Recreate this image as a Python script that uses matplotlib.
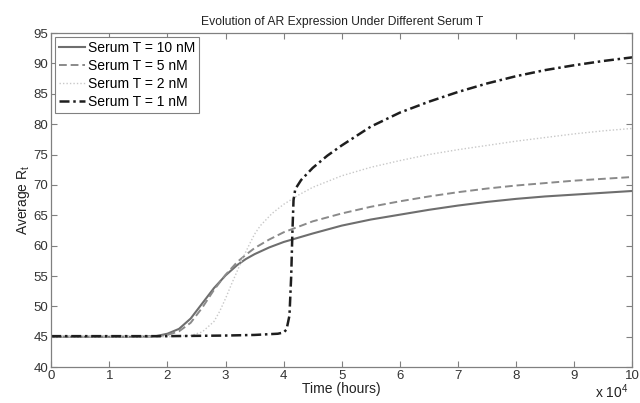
import matplotlib
matplotlib.use("Agg")
from matplotlib import pyplot as plt
import numpy as np

# time in units of 1e4 hours, values are average R_t
t10 = [0, 1, 1.5, 1.8, 2.0, 2.2, 2.4, 2.6, 2.8, 3.0, 3.2, 3.35, 3.5, 3.75, 4.0, 4.5, 5, 5.5, 6, 6.5, 7, 7.5, 8, 8.5, 9, 9.5, 10]
r10 = [45, 45, 45, 45.1, 45.5, 46.3, 48.0, 50.5, 53.0, 55.1, 56.8, 57.8, 58.6, 59.7, 60.6, 62.0, 63.3, 64.3, 65.1, 65.9, 66.6, 67.2, 67.7, 68.1, 68.4, 68.7, 69.0]

t5 = [0, 1, 1.5, 1.8, 2.0, 2.2, 2.4, 2.6, 2.8, 3.0, 3.2, 3.35, 3.5, 3.75, 4.0, 4.5, 5, 5.5, 6, 6.5, 7, 7.5, 8, 8.5, 9, 9.5, 10]
r5 = [45, 45, 45, 45.0, 45.3, 45.9, 47.3, 49.8, 52.7, 55.2, 57.3, 58.5, 59.6, 61.0, 62.2, 64.0, 65.3, 66.4, 67.3, 68.1, 68.8, 69.4, 69.9, 70.3, 70.7, 71.0, 71.3]

t2 = [0, 1, 2, 2.4, 2.6, 2.8, 2.9, 3.0, 3.1, 3.2, 3.3, 3.4, 3.5, 3.6, 3.8, 4.0, 4.25, 4.5, 5, 5.5, 6, 6.5, 7, 7.5, 8, 8.5, 9, 9.5, 10]
r2 = [45, 45, 45, 45.2, 45.8, 47.5, 49.2, 51.3, 53.6, 55.8, 58.0, 60.0, 61.9, 63.3, 65.3, 66.8, 68.3, 69.6, 71.5, 72.9, 74.0, 75.0, 75.8, 76.5, 77.2, 77.8, 78.4, 78.9, 79.3]

t1 = [0, 1, 2, 3, 3.5, 3.9, 4.0, 4.05, 4.1, 4.13, 4.15, 4.17, 4.2, 4.3, 4.5, 4.75, 5, 5.5, 6, 6.5, 7, 7.5, 8, 8.5, 9, 9.5, 10]
r1 = [45.1, 45.1, 45.1, 45.2, 45.3, 45.5, 45.7, 46.2, 48.5, 55, 62, 67.5, 69.3, 70.8, 72.8, 74.8, 76.5, 79.6, 81.9, 83.7, 85.3, 86.7, 87.9, 88.9, 89.7, 90.4, 91.0]

labels = ["Serum T = 10 nM", "Serum T = 5 nM", "Serum T = 2 nM", "Serum T = 1 nM"]

plt.rcParams['font.family'] = ['Liberation Sans', 'DejaVu Sans']
plt.rcParams['font.size'] = 10

fig = plt.figure(figsize=(6.4, 4.03), dpi=100)
ax = fig.add_axes([0.080, 0.089, 0.908, 0.829])

ax.plot(t10, r10, color="#6e6e6e", lw=1.5, ls="-", label=labels[0])
ax.plot(t5, r5, color="#8a8a8a", lw=1.4, ls=(0, (4, 2)), label=labels[1])
ax.plot(t2, r2, color="#c8c8c8", lw=1.0, ls=(0, (1, 1.5)), label=labels[2])
ax.plot(t1, r1, color="#1e1e1e", lw=1.8, ls=(0, (4, 1.5, 1, 1.5)), label=labels[3])

ax.set_xlim(0, 10)
ax.set_ylim(40, 95)
ax.set_xticks(range(0, 11))
ax.set_yticks(range(40, 96, 5))
ax.tick_params(direction="in", top=True, right=True, length=4, width=0.8,
               color="#808080", labelcolor="#333333", labelsize=9.5, pad=2)
for s in ax.spines.values():
    s.set_color("#808080")
    s.set_linewidth(0.9)

ax.set_title("Evolution of AR Expression Under Different Serum T", fontsize=8.7, color="#222222", pad=6)
ax.set_xlabel("Time (hours)", color="#222222", labelpad=0)
ax.set_ylabel("Average R$_\\mathregular{t}$", color="#222222", labelpad=1)
fig.text(0.982, 0.004, "x 10$^\\mathregular{4}$", ha="right", va="bottom", color="#222222")

leg = ax.legend(loc="upper left", fancybox=False, edgecolor="#808080", framealpha=1,
                handlelength=1.9, handletextpad=0.2, borderpad=0.3, labelspacing=0.3,
                borderaxespad=0.25)
leg.get_frame().set_linewidth(0.8)

fig.savefig("out.png", dpi=100)
